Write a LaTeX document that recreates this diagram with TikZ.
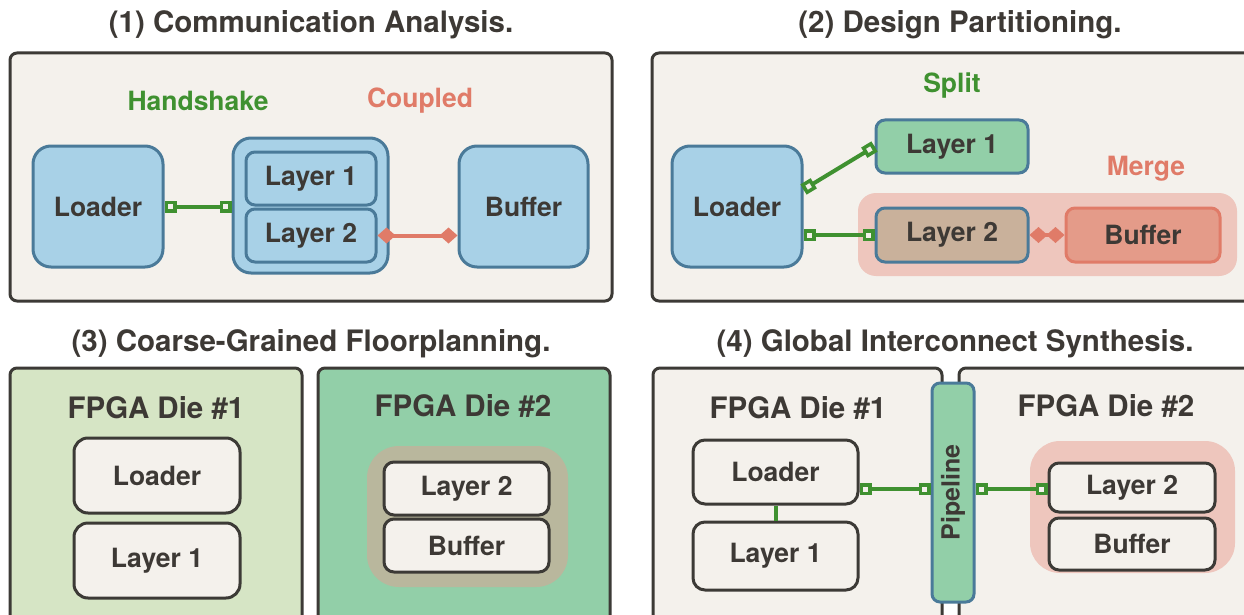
\documentclass[tikz,border=0pt]{standalone}
\usepackage{fontspec}
\setmainfont{TeX Gyre Heros}
\usetikzlibrary{arrows.meta}

\definecolor{ink}{HTML}{3D3935}
\definecolor{frame}{HTML}{3C3A36}
\definecolor{cream}{HTML}{F4F1EC}
\definecolor{skyfill}{HTML}{A8D1E7}
\definecolor{skyline}{HTML}{4A7A99}
\definecolor{hsgreen}{HTML}{3F9130}
\definecolor{salmon}{HTML}{E07B68}
\definecolor{mint}{HTML}{92CFA8}
\definecolor{palegreen}{HTML}{D6E5C5}
\definecolor{tan}{HTML}{C9B19B}
\definecolor{mergebg}{HTML}{EEC6BD}
\definecolor{buffill}{HTML}{E49B89}
\definecolor{khaki}{HTML}{B9B79D}

\tikzset{
  lbl/.style={font=\fontsize{26.5}{30}\selectfont\bfseries, text=ink},
  dielbl/.style={font=\fontsize{29.5}{33}\selectfont\bfseries, text=ink},
  ttl/.style={font=\fontsize{29.5}{33}\selectfont\bfseries, text=ink},
  panel/.style={draw=frame, line width=3pt, rounded corners=7pt, inner sep=0pt},
  bluebox/.style={lbl, draw=skyline, fill=skyfill, line width=3pt, inner sep=0pt},
  plainbox/.style={lbl, draw=frame, fill=cream, line width=3pt, inner sep=0pt},
  halo/.style={inner sep=0pt, draw=none},
  port/.style={rectangle, draw=hsgreen, fill=cream, line width=3.5pt,
    minimum size=8.5pt, inner sep=0pt, sloped},
  hs/.style={draw=hsgreen, line width=4pt},
  cpl/.style={draw=salmon, line width=4pt,
    {Diamond[length=18pt,width=16pt]}-{Diamond[length=18pt,width=16pt]}},
  tag/.style={font=\fontsize{26.5}{30}\selectfont\bfseries},
}

\begin{document}
\begin{tikzpicture}[x=1pt, y=-1pt]
\useasboundingbox (0,0) rectangle (1244,615);
\fill[white] (0,0) rectangle (1244,615);

% ---------- (1) Communication Analysis ----------
\node[ttl] (t1) at (311,25) {(1) Communication Analysis.};
\node[panel, fill=cream, minimum width=602pt, minimum height=248pt] (p1) at (311,177) {};
\node[tag, text=hsgreen] (hs1) at (198,101) {Handshake};
\node[tag, text=salmon] (cp1) at (420,101) {Coupled};
\node[bluebox, rounded corners=18pt, minimum width=130pt, minimum height=121pt] (ld1) at (98,206.5) {Loader};
\node[bluebox, rounded corners=18pt, minimum width=155pt, minimum height=135pt] (grp1) at (310.5,205.5) {};
\node[bluebox, rounded corners=9pt, minimum width=130pt, minimum height=53pt] (la11) at (311,178.5) {Layer 1};
\node[bluebox, rounded corners=9pt, minimum width=130pt, minimum height=53pt] (la21) at (311,235.5) {Layer 2};
\node[bluebox, rounded corners=18pt, minimum width=129pt, minimum height=121pt] (bf1) at (523.5,206.5) {Buffer};
\draw[hs] (ld1.east) -- (ld1.east -| grp1.west)
  node[port, pos=0, anchor=west] {} node[port, pos=1, anchor=east] {};
\draw[cpl] (la21.east) -- (la21.east -| bf1.west);

% ---------- (2) Design Partitioning ----------
\node[ttl] (t2) at (960,25) {(2) Design Partitioning.};
\node[panel, fill=cream, minimum width=600pt, minimum height=248pt] (p2) at (952,177) {};
\node[tag, text=hsgreen] (sp2) at (952,86) {Split};
\node[tag, text=salmon] (mg2) at (1146,169) {Merge};
\node[halo, fill=mergebg, rounded corners=18pt, minimum width=379pt, minimum height=83pt] (mgbg2) at (1047.5,234.5) {};
\node[bluebox, rounded corners=18pt, minimum width=130pt, minimum height=121pt] (ld2) at (737,206.5) {Loader};
\node[bluebox, fill=mint, rounded corners=9pt, minimum width=152pt, minimum height=53pt] (la12) at (952,146.5) {Layer 1};
\node[bluebox, fill=tan, rounded corners=9pt, minimum width=152pt, minimum height=54pt] (la22) at (952,235) {Layer 2};
\node[bluebox, fill=buffill, draw=salmon, rounded corners=9pt, minimum width=154pt, minimum height=54pt] (bf2) at (1143,235) {Buffer};
\coordinate (sp2a) at ([yshift=17pt]ld2.east);
\draw[hs] (sp2a) -- (la12.west)
  node[port, pos=0, anchor=west] {} node[port, pos=1, anchor=east] {};
\draw[hs] (ld2.east |- la22.west) -- (la22.west)
  node[port, pos=0, anchor=west] {} node[port, pos=1, anchor=east] {};
\draw[cpl] (la22.east) -- (la22.east -| bf2.west);

% ---------- (3) Coarse-Grained Floorplanning ----------
\node[ttl] (t3) at (311,344) {(3) Coarse-Grained Floorplanning.};
\node[panel, fill=palegreen, minimum width=292pt, minimum height=262pt] (d31) at (156,499) {};
\node[panel, fill=mint, minimum width=292pt, minimum height=262pt] (d32) at (464,499) {};
\node[dielbl] (n31) at (156,408) {FPGA Die \#1};
\node[dielbl] (n32) at (463,406) {FPGA Die \#2};
\node[plainbox, rounded corners=14pt, minimum width=166pt, minimum height=75pt] (ld3) at (157,475.5) {Loader};
\node[plainbox, rounded corners=14pt, minimum width=166pt, minimum height=75pt] (la13) at (157,560.5) {Layer 1};
\node[halo, fill=khaki, rounded corners=32pt, minimum width=201pt, minimum height=141pt] (grp3) at (467.5,516.5) {};
\node[plainbox, rounded corners=10pt, minimum width=165pt, minimum height=53pt] (la23) at (466.5,488.5) {Layer 2};
\node[plainbox, rounded corners=10pt, minimum width=165pt, minimum height=53pt] (bf3) at (466.5,545.5) {Buffer};

% ---------- (4) Global Interconnect Synthesis ----------
\node[ttl] (t4) at (955,344) {(4) Global Interconnect Synthesis.};
\node[panel, fill=cream, minimum width=289pt, minimum height=262pt] (d41) at (797.5,499) {};
\node[panel, fill=cream, minimum width=301pt, minimum height=262pt] (d42) at (1109.5,499) {};
\node[dielbl] (n41) at (798,408) {FPGA Die \#1};
\node[dielbl] (n42) at (1106,406) {FPGA Die \#2};
\node[bluebox, fill=mint, rounded corners=8pt, minimum width=42pt, minimum height=219pt] (pipe) at (953,492.5) {};
\node[font=\fontsize{25}{28}\selectfont\bfseries, text=ink, rotate=90] (pipet) at (pipe.center) {Pipeline};
\node[plainbox, rounded corners=12pt, minimum width=165pt, minimum height=64pt] (ld4) at (775.5,472) {Loader};
\node[plainbox, rounded corners=12pt, minimum width=165pt, minimum height=68pt] (la14) at (775.5,556) {Layer 1};
\node[halo, fill=mergebg, rounded corners=30pt, minimum width=205pt, minimum height=132pt] (mgbg4) at (1132.5,507) {};
\node[plainbox, rounded corners=10pt, minimum width=166pt, minimum height=49pt] (la24) at (1132,487.5) {Layer 2};
\node[plainbox, rounded corners=10pt, minimum width=166pt, minimum height=52pt] (bf4) at (1132,544) {Buffer};
\draw[draw=hsgreen, line width=4pt] (ld4.south) -- (la14.north);
\coordinate (c4) at ([yshift=-17pt]ld4.east);
\draw[hs] (c4) -- (c4 -| pipe.west)
  node[port, pos=0, anchor=west] {} node[port, pos=1, anchor=east] {};
\draw[hs] (c4 -| pipe.east) -- (c4 -| la24.west)
  node[port, pos=0, anchor=west] {} node[port, pos=1, anchor=east] {};
\end{tikzpicture}
\end{document}
